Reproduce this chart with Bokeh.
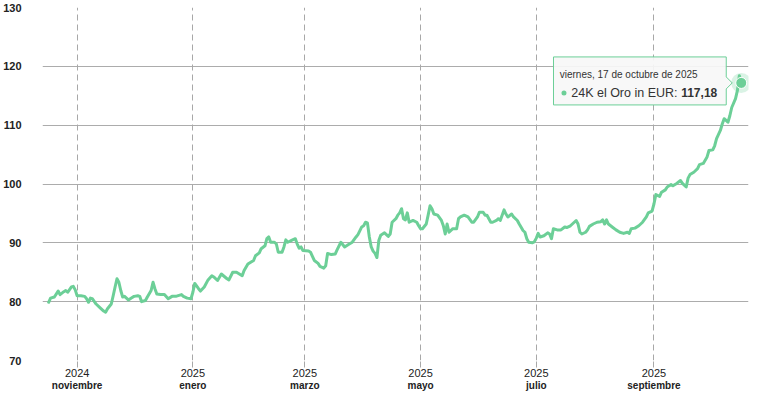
import pandas as pd
from bokeh.plotting import figure
from bokeh.models import Range1d, FixedTicker, LinearAxis, Label, ColumnDataSource, Grid
from bokeh.embed import file_html
from bokeh.resources import INLINE

# ---------------- data ----------------
dates = [
    "2024-10-17", "2024-10-18", "2024-10-20", "2024-10-22", "2024-10-23", "2024-10-25", "2024-10-26",
    "2024-10-27", "2024-10-29", "2024-10-30", "2024-10-31", "2024-11-01", "2024-11-03", "2024-11-05",
    "2024-11-06", "2024-11-07", "2024-11-08", "2024-11-09", "2024-11-11", "2024-11-13", "2024-11-15",
    "2024-11-16", "2024-11-17", "2024-11-19", "2024-11-20", "2024-11-21", "2024-11-22", "2024-11-23",
    "2024-11-24", "2024-11-25", "2024-11-26", "2024-11-28", "2024-11-30", "2024-12-01", "2024-12-03",
    "2024-12-04", "2024-12-05", "2024-12-07", "2024-12-08", "2024-12-10", "2024-12-11", "2024-12-12",
    "2024-12-13", "2024-12-15", "2024-12-17", "2024-12-19", "2024-12-21", "2024-12-23", "2024-12-26",
    "2024-12-27", "2024-12-29", "2024-12-31", "2025-01-01", "2025-01-02", "2025-01-04", "2025-01-05",
    "2025-01-07", "2025-01-09", "2025-01-11", "2025-01-12", "2025-01-14", "2025-01-16", "2025-01-19",
    "2025-01-20", "2025-01-22", "2025-01-24", "2025-01-27", "2025-01-28", "2025-01-30", "2025-02-02",
    "2025-02-03", "2025-02-05", "2025-02-06", "2025-02-08", "2025-02-09", "2025-02-10", "2025-02-11",
    "2025-02-13", "2025-02-14", "2025-02-15", "2025-02-17", "2025-02-18", "2025-02-19", "2025-02-20",
    "2025-02-22", "2025-02-24", "2025-02-25", "2025-02-26", "2025-02-27", "2025-02-28", "2025-03-03",
    "2025-03-04", "2025-03-06", "2025-03-08", "2025-03-09", "2025-03-11", "2025-03-12", "2025-03-13",
    "2025-03-15", "2025-03-17", "2025-03-18", "2025-03-20", "2025-03-22", "2025-03-24", "2025-03-26",
    "2025-03-28", "2025-03-29", "2025-03-31", "2025-04-01", "2025-04-02", "2025-04-03", "2025-04-04",
    "2025-04-05", "2025-04-06", "2025-04-07", "2025-04-08", "2025-04-09", "2025-04-10", "2025-04-12",
    "2025-04-14", "2025-04-15", "2025-04-16", "2025-04-18", "2025-04-19", "2025-04-20", "2025-04-21",
    "2025-04-22", "2025-04-23", "2025-04-24", "2025-04-25", "2025-04-27", "2025-04-29", "2025-04-30",
    "2025-05-01", "2025-05-02", "2025-05-04", "2025-05-05", "2025-05-06", "2025-05-07", "2025-05-08",
    "2025-05-10", "2025-05-12", "2025-05-13", "2025-05-14", "2025-05-15", "2025-05-16", "2025-05-18",
    "2025-05-20", "2025-05-21", "2025-05-22", "2025-05-24", "2025-05-26", "2025-05-28", "2025-05-29",
    "2025-05-31", "2025-06-01", "2025-06-03", "2025-06-04", "2025-06-05", "2025-06-07", "2025-06-08",
    "2025-06-10", "2025-06-11", "2025-06-12", "2025-06-14", "2025-06-15", "2025-06-16", "2025-06-18",
    "2025-06-19", "2025-06-21", "2025-06-22", "2025-06-24", "2025-06-25", "2025-06-26", "2025-06-27",
    "2025-06-29", "2025-06-30", "2025-07-01", "2025-07-02", "2025-07-03", "2025-07-05", "2025-07-07",
    "2025-07-08", "2025-07-09", "2025-07-10", "2025-07-12", "2025-07-14", "2025-07-16", "2025-07-17",
    "2025-07-19", "2025-07-22", "2025-07-23", "2025-07-24", "2025-07-25", "2025-07-27", "2025-07-28",
    "2025-07-29", "2025-07-31", "2025-08-02", "2025-08-04", "2025-08-05", "2025-08-06", "2025-08-07",
    "2025-08-08", "2025-08-10", "2025-08-12", "2025-08-14", "2025-08-16", "2025-08-18", "2025-08-19",
    "2025-08-20", "2025-08-22", "2025-08-24", "2025-08-26", "2025-08-28", "2025-08-29", "2025-08-31",
    "2025-09-01", "2025-09-02", "2025-09-04", "2025-09-05", "2025-09-07", "2025-09-08", "2025-09-10",
    "2025-09-11", "2025-09-13", "2025-09-15", "2025-09-16", "2025-09-18", "2025-09-19", "2025-09-20",
    "2025-09-22", "2025-09-24", "2025-09-25", "2025-09-27", "2025-09-29", "2025-09-30", "2025-10-02",
    "2025-10-03", "2025-10-04", "2025-10-06", "2025-10-07", "2025-10-08", "2025-10-09", "2025-10-10",
    "2025-10-11", "2025-10-12", "2025-10-14", "2025-10-15", "2025-10-16", "2025-10-17",
]
prices = [
    79.9, 80.6, 80.8, 81.8, 81.2, 81.7, 81.9,
    81.6, 82.5, 82.6, 82.0, 81.0, 81.0, 80.9,
    80.5, 79.9, 80.6, 80.5, 79.6, 79.0, 78.4,
    78.2, 78.8, 79.6, 81.0, 82.5, 83.9, 83.3,
    81.9, 80.8, 80.9, 80.3, 80.7, 80.9, 81.0,
    80.9, 80.0, 80.2, 80.8, 81.9, 83.3, 82.2,
    81.3, 81.2, 81.2, 80.5, 80.9, 80.9, 81.2,
    80.9, 80.6, 80.5, 81.6, 83.1, 82.2, 81.8,
    82.5, 83.7, 84.4, 84.2, 83.6, 84.7, 83.9,
    83.7, 85.0, 85.0, 84.4, 85.3, 86.4, 87.0,
    87.8, 88.3, 89.0, 89.5, 90.7, 91.0, 90.1,
    90.1, 89.8, 88.4, 88.4, 89.3, 90.5, 90.1,
    90.4, 90.7, 89.8, 89.1, 89.3, 88.7, 88.6,
    88.4, 87.0, 86.5, 86.0, 85.7, 86.1, 88.2,
    88.0, 88.1, 88.8, 90.1, 89.3, 89.7, 90.1,
    91.0, 91.4, 92.7, 92.9, 93.5, 93.4, 91.0,
    89.3, 88.6, 88.2, 87.5, 90.4, 91.3, 91.7,
    91.1, 91.5, 93.5, 94.1, 94.7, 95.1, 95.8,
    94.1, 93.9, 95.1, 93.5, 93.8, 93.5, 92.9,
    92.4, 92.4, 93.2, 94.7, 96.3, 95.8, 94.9,
    94.7, 93.8, 92.9, 91.5, 93.2, 91.8, 92.4,
    92.4, 94.1, 94.4, 94.7, 94.4, 93.5, 93.5,
    94.4, 95.2, 95.2, 94.7, 94.7, 93.5, 93.5,
    93.8, 94.1, 93.8, 95.6, 94.9, 94.4, 94.9,
    94.4, 93.8, 93.2, 92.1, 91.8, 90.7, 90.1,
    90.0, 90.2, 90.8, 91.6, 91.0, 91.2, 91.7,
    91.5, 90.7, 92.4, 92.2, 92.2, 92.7, 92.6,
    92.9, 93.8, 93.2, 91.8, 91.5, 91.8, 92.2,
    92.8, 93.2, 93.5, 93.6, 93.9, 93.2, 93.9,
    93.2, 92.7, 92.2, 91.8, 91.6, 91.8, 91.6,
    92.4, 92.5, 92.9, 93.5, 94.4, 95.1, 95.4,
    96.6, 98.2, 97.9, 98.6, 99.0, 99.5, 99.9,
    99.7, 100.1, 100.6, 100.1, 99.5, 101.0, 101.6,
    102.0, 102.6, 103.3, 103.5, 104.6, 105.7, 105.8,
    106.5, 107.7, 109.1, 110.2, 111.1, 110.8, 110.5,
    111.6, 113.0, 114.5, 115.9, 118.4, 117.18,
]
tick_dates = ["2024-11-01", "2025-01-01", "2025-03-01", "2025-05-01", "2025-07-01", "2025-09-01"]
tick_years = ["2024", "2025", "2025", "2025", "2025", "2025"]
tick_months = ["noviembre", "enero", "marzo", "mayo", "julio", "septiembre"]
y_ticks = [70, 80, 90, 100, 110, 120, 130]
tooltip_date = "viernes, 17 de octubre de 2025"
series_name = "24K el Oro in EUR"

# ---------------- style / layout ----------------
GREEN = "#6ccf97"
FONT = "Liberation Sans"
W, H = 755, 394
ML, MR, MT, MB = 41, 7, 7, 34
FW, FH = W - ML - MR, H - MT - MB
X_START = pd.Timestamp("2024-10-13 18:00")
X_END = pd.Timestamp("2025-10-20 20:00")
Y_START, Y_END = 70, 130

x = pd.to_datetime(dates)
src = ColumnDataSource(dict(x=x, y=prices))
tick_ms = [float(pd.Timestamp(d).value // 10**6) for d in tick_dates]

p = figure(width=W, height=H, x_range=Range1d(X_START, X_END), y_range=Range1d(Y_START, Y_END),
           output_backend="svg", toolbar_location=None, x_axis_type=None,
           min_border_left=ML, min_border_right=MR, min_border_top=MT, min_border_bottom=MB)
p.outline_line_color = None
p.background_fill_color = "white"
p.border_fill_color = "white"

# y axis / grid
p.yaxis.ticker = FixedTicker(ticks=y_ticks)
p.ygrid.ticker = FixedTicker(ticks=y_ticks)
p.ygrid.grid_line_color = "#acacac"
p.ygrid.grid_line_width = 1
p.yaxis.axis_line_color = None
p.yaxis.major_tick_line_color = None
p.yaxis.minor_tick_line_color = None
p.yaxis.major_label_standoff = 15
p.yaxis.major_label_text_font = FONT
p.yaxis.major_label_text_font_size = "11px"
p.yaxis.major_label_text_font_style = "bold"
p.yaxis.major_label_text_color = "#222222"

# vertical dashed grid
p.add_layout(Grid(dimension=0, ticker=FixedTicker(ticks=tick_ms), grid_line_color="#a8a8a8",
                  grid_line_dash="6 4", grid_line_width=1))

# x axes: years then months
ax1 = LinearAxis(ticker=FixedTicker(ticks=tick_ms, minor_ticks=[]),
                 major_label_overrides={t: s for t, s in zip(tick_ms, tick_years)})
ax1.axis_line_color = None
ax1.major_tick_in = 0
ax1.major_tick_out = 7
ax1.major_tick_line_color = "#a8a8a8"
ax1.major_tick_line_dash = "6 4"
ax1.minor_tick_line_color = None
ax1.major_label_standoff = 1
ax1.major_label_text_font = FONT
ax1.major_label_text_font_size = "11px"
ax1.major_label_text_color = "#222222"
p.add_layout(ax1, "below")

ax2 = LinearAxis(ticker=FixedTicker(ticks=tick_ms, minor_ticks=[]),
                 major_label_overrides={t: s for t, s in zip(tick_ms, tick_months)})
ax2.axis_line_color = None
ax2.major_tick_in = 0
ax2.major_tick_out = 0
ax2.major_tick_line_color = None
ax2.minor_tick_line_color = None
ax2.major_label_standoff = 0
ax2.major_label_text_font = FONT
ax2.major_label_text_font_size = "10px"
ax2.major_label_text_font_style = "bold"
ax2.major_label_text_color = "#222222"
p.add_layout(ax2, "below")

# series line
p.line("x", "y", source=src, line_color=GREEN, line_width=3, line_join="round", line_cap="round")

# ---------------- tooltip anchored on last point ----------------
lx = float(x[-1].value // 10**6)
ly = prices[-1]
mpp = (X_END - X_START).total_seconds() * 1000.0 / FW
vpp = (Y_END - Y_START) / FH


def px(dx):
    return lx + dx * mpp


def py(dy):
    return ly + dy * vpp


tip_xs = [px(-188), px(-15), px(-15), px(-9), px(-15), px(-15), px(-188)]
tip_ys = [py(26), py(26), py(6), py(0), py(-6), py(-22), py(-22)]
p.patch(tip_xs, tip_ys, fill_color="#f7f7f7", fill_alpha=0.92, line_color=GREEN, line_width=1)

p.scatter([px(-177.5)], [py(-10)], size=5, fill_color=GREEN, line_color=None)

p.add_layout(Label(x=lx, y=ly, x_offset=-181.5, y_offset=8, text=tooltip_date,
                   text_font=FONT, text_font_size="10px", text_color="#333333",
                   text_align="left", text_baseline="middle"))
p.add_layout(Label(x=lx, y=ly, x_offset=-170, y_offset=-10, text=series_name + ": ",
                   text_font=FONT, text_font_size="12.5px", text_color="#333333",
                   text_align="left", text_baseline="middle"))
p.add_layout(Label(x=lx, y=ly, x_offset=-24, y_offset=-10, text=f"{ly:.2f}".replace(".", ","),
                   text_font=FONT, text_font_size="12px", text_font_style="bold", text_color="#333333",
                   text_align="right", text_baseline="middle"))

# highlighted last point
p.scatter([x[-1]], [ly], size=20, fill_color=GREEN, fill_alpha=0.25, line_color=None)
p.scatter([x[-1]], [ly], size=11, fill_color=GREEN, line_color="white", line_width=1)

open("out.html", "w").write(file_html(p, INLINE))
